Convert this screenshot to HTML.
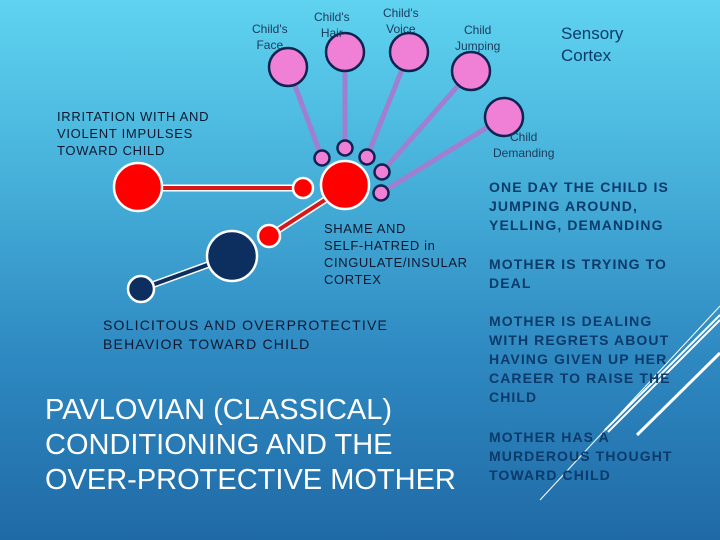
<!DOCTYPE html>
<html><head><meta charset="utf-8"><style>
html,body{margin:0;padding:0}
body{width:720px;height:540px;overflow:hidden;background:linear-gradient(180deg,#5fd3f0 0%,#45aed8 35%,#2f8ac2 65%,#1f6aa6 100%);font-family:"Liberation Sans",sans-serif;position:relative}
.t{position:absolute;white-space:nowrap}
.s{font-size:12px;color:#1b3a5c;line-height:16px;text-align:center}
.l{font-size:13px;color:#101830;line-height:17px;letter-spacing:0.7px}
.r{font-size:14px;color:#0c3a6a;font-weight:bold;line-height:19px;letter-spacing:1.1px}
</style></head><body>
<svg width="720" height="540" style="position:absolute;left:0;top:0">
<g stroke="#a07ed0" stroke-width="5" stroke-linecap="round">
<line x1="322" y1="158" x2="288" y2="67"/>
<line x1="345" y1="148" x2="345" y2="52"/>
<line x1="367" y1="157" x2="409" y2="52"/>
<line x1="382" y1="172" x2="471" y2="71"/>
<line x1="381" y1="193" x2="504" y2="117"/>
</g>
<g fill="#f07fd6" stroke="#0d2450" stroke-width="2.5">
<circle cx="288" cy="67" r="19"/><circle cx="345" cy="52" r="19"/><circle cx="409" cy="52" r="19"/><circle cx="471" cy="71" r="19"/><circle cx="504" cy="117" r="19"/>
<circle cx="322" cy="158" r="7.5"/><circle cx="345" cy="148" r="7.5"/><circle cx="367" cy="157" r="7.5"/><circle cx="382" cy="172" r="7.5"/><circle cx="381" cy="193" r="7.5"/>
</g>
<line x1="138" y1="188" x2="303" y2="188" stroke="#fff" stroke-width="7"/>
<line x1="138" y1="188" x2="303" y2="188" stroke="#d81818" stroke-width="4"/>
<line x1="345" y1="187" x2="269" y2="236" stroke="#fff" stroke-width="7"/>
<line x1="345" y1="187" x2="269" y2="236" stroke="#d81818" stroke-width="4"/>
<line x1="232" y1="256" x2="141" y2="289" stroke="#fff" stroke-width="7"/>
<line x1="232" y1="256" x2="141" y2="289" stroke="#0c2f60" stroke-width="4"/>
<g stroke="#fff" stroke-width="2.5">
<circle cx="138" cy="187" r="24" fill="#f00"/><circle cx="303" cy="188" r="10" fill="#f00"/><circle cx="345" cy="185" r="24" fill="#f00"/><circle cx="269" cy="236" r="11" fill="#f00"/>
<circle cx="232" cy="256" r="25" fill="#0c2f60"/><circle cx="141" cy="289" r="13" fill="#0c2f60"/>
</g>
<line x1="540" y1="500" x2="720" y2="306" stroke="#fff" stroke-width="1"/>
<line x1="605" y1="430" x2="720" y2="315" stroke="#fff" stroke-width="2"/>
<line x1="608" y1="432" x2="720" y2="320" stroke="#fff" stroke-width="2"/>
<line x1="637" y1="435" x2="720" y2="353" stroke="#fff" stroke-width="3"/>
</svg>
<div class="t s" style="left:252px;top:21px">Child's<br>Face</div>
<div class="t s" style="left:314px;top:9px">Child's<br>Hair</div>
<div class="t s" style="left:383px;top:5px">Child's<br>Voice</div>
<div class="t s" style="left:455px;top:22px">Child<br>Jumping</div>
<div class="t s" style="left:493px;top:129px">Child<br>Demanding</div>
<div class="t" style="left:561px;top:23px;font-size:17px;color:#0c3a6a;line-height:22px">Sensory<br>Cortex</div>
<div class="t l" style="left:57px;top:108px">IRRITATION WITH AND<br>VIOLENT IMPULSES<br>TOWARD CHILD</div>
<div class="t l" style="left:324px;top:220px;letter-spacing:0.6px">SHAME AND<br>SELF-HATRED in<br>CINGULATE/INSULAR<br>CORTEX</div>
<div class="t" style="left:103px;top:316px;font-size:14px;color:#101830;line-height:19px;letter-spacing:1.2px">SOLICITOUS AND OVERPROTECTIVE<br>BEHAVIOR TOWARD CHILD</div>
<div class="t" style="left:45px;top:393px;font-size:29px;color:#fff;line-height:35px">PAVLOVIAN (CLASSICAL)<br>CONDITIONING AND THE<br>OVER-PROTECTIVE MOTHER</div>
<div class="t r" style="left:489px;top:178px">ONE DAY THE CHILD IS<br>JUMPING AROUND,<br>YELLING, DEMANDING</div>
<div class="t r" style="left:489px;top:255px">MOTHER IS TRYING TO<br>DEAL</div>
<div class="t r" style="left:489px;top:312px">MOTHER IS DEALING<br>WITH REGRETS ABOUT<br>HAVING GIVEN UP HER<br>CAREER TO RAISE THE<br>CHILD</div>
<div class="t r" style="left:489px;top:428px">MOTHER HAS A<br>MURDEROUS THOUGHT<br>TOWARD CHILD</div>
</body></html>
